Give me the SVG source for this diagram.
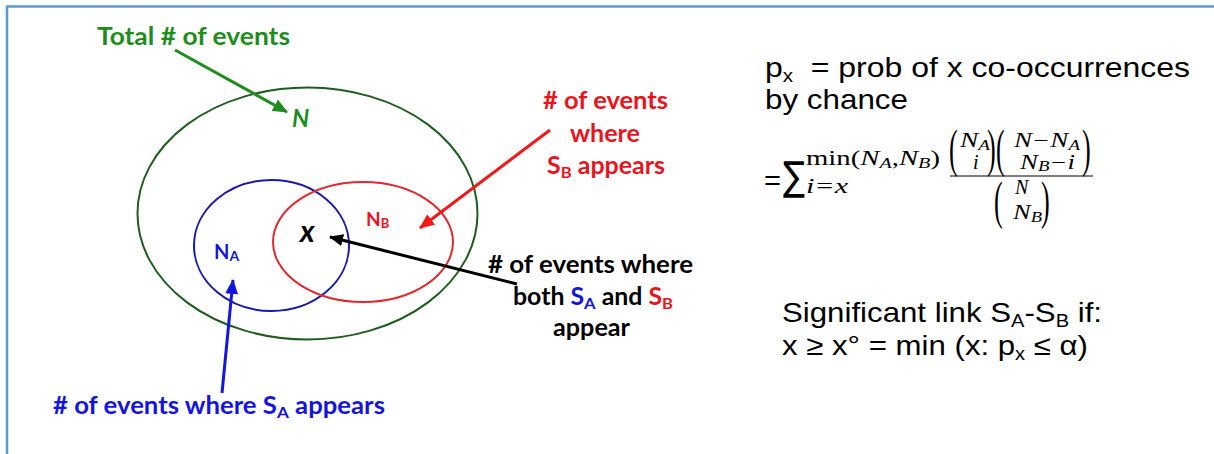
<svg xmlns="http://www.w3.org/2000/svg" width="1214" height="454" viewBox="0 0 1214 454">
<style>
.cal{font-family:Lato,"Open Sans","DejaVu Sans",sans-serif;font-weight:bold}
.ari{font-family:"Liberation Sans",Arial,sans-serif;fill:#000}
.mth{font-family:"Liberation Serif","DejaVu Serif",serif;fill:#000}
.it{font-style:italic}
.g{fill:#1f8c1f}.r{fill:#e8141e}.b{fill:#1414e0}.k{fill:#000}
.conn{fill:none;stroke-width:3}
</style>
<defs>
<marker id="ahG" markerUnits="userSpaceOnUse" markerWidth="15" markerHeight="13" viewBox="0 0 15 13" refX="14" refY="6.5" orient="auto"><path d="M0,0 L15,6.5 L0,13 z" fill="#1f8c1f"/></marker>
<marker id="ahR" markerUnits="userSpaceOnUse" markerWidth="15" markerHeight="13" viewBox="0 0 15 13" refX="14" refY="6.5" orient="auto"><path d="M0,0 L15,6.5 L0,13 z" fill="#f01818"/></marker>
<marker id="ahK" markerUnits="userSpaceOnUse" markerWidth="14" markerHeight="12" viewBox="0 0 14 12" refX="13" refY="6" orient="auto"><path d="M0,0 L14,6 L0,12 z" fill="#000"/></marker>
<marker id="ahB" markerUnits="userSpaceOnUse" markerWidth="15" markerHeight="13" viewBox="0 0 15 13" refX="14" refY="6.5" orient="auto"><path d="M0,0 L15,6.5 L0,13 z" fill="#1414e0"/></marker>
</defs>
<rect width="1214" height="454" fill="#fff"/>
<path d="M7,456 V6.5 H1216" fill="none" stroke="#5b9bd5" stroke-width="2.5"/>

<g id="set-total">
<ellipse cx="307.5" cy="213.5" rx="170" ry="126" fill="none" stroke="#1e5c1e" stroke-width="2"/>
<text class="cal g it" x="292" y="127" font-size="24">N</text>
</g>
<g id="set-A">
<ellipse cx="271.5" cy="245.5" rx="77.5" ry="65.5" fill="none" stroke="#1a1aa8" stroke-width="2"/>
<text class="cal b" x="214" y="259" font-size="20">N<tspan font-size="14" dy="2">A</tspan></text>
</g>
<g id="set-B">
<ellipse cx="363" cy="242" rx="90" ry="60" fill="none" stroke="#e0282e" stroke-width="2"/>
<text class="cal r" x="366" y="226" font-size="19">N<tspan font-size="13" dy="2">B</tspan></text>
</g>
<g id="intersection">
<text class="cal k it" x="300" y="242" font-size="30">x</text>
</g>

<g id="label-total">
<text class="cal g" x="97" y="45" font-size="24" textLength="193" lengthAdjust="spacingAndGlyphs">Total # of events</text>
</g>
<g id="label-B">
<text class="cal r" x="543" y="109" font-size="24" textLength="125" lengthAdjust="spacingAndGlyphs"># of events</text>
<text class="cal r" x="570" y="142" font-size="24" textLength="70" lengthAdjust="spacingAndGlyphs">where</text>
<text class="cal r" x="547" y="174" font-size="24" textLength="118" lengthAdjust="spacingAndGlyphs">S<tspan font-size="16" dy="4">B</tspan><tspan dy="-4"> appears</tspan></text>
</g>
<g id="label-both">
<text class="cal k" x="488" y="273" font-size="24" textLength="205" lengthAdjust="spacingAndGlyphs"># of events where</text>
<text class="cal k" x="513" y="305" font-size="24" textLength="160" lengthAdjust="spacingAndGlyphs">both <tspan class="b">S</tspan><tspan class="b" font-size="16" dy="4">A</tspan><tspan dy="-4"> and </tspan><tspan class="r">S</tspan><tspan class="r" font-size="16" dy="4">B</tspan></text>
<text class="cal k" x="553" y="336" font-size="24" textLength="77" lengthAdjust="spacingAndGlyphs">appear</text>
</g>
<g id="label-A">
<text class="cal b" x="53" y="414" font-size="24" textLength="332" lengthAdjust="spacingAndGlyphs"># of events where S<tspan font-size="16" dy="4">A</tspan><tspan dy="-4"> appears</tspan></text>
</g>

<g id="connectors">
<line class="conn" x1="175" y1="50" x2="287" y2="112" stroke="#1f8c1f" marker-end="url(#ahG)"/>
<line class="conn" x1="550" y1="130" x2="420" y2="228" stroke="#f01818" marker-end="url(#ahR)"/>
<line class="conn" x1="517" y1="284" x2="330" y2="237" stroke="#000" stroke-width="2.5" marker-end="url(#ahK)"/>
<line class="conn" x1="222" y1="393" x2="233" y2="280" stroke="#1414e0" marker-end="url(#ahB)"/>
</g>

<g id="definition">
<text class="ari" x="765" y="77" font-size="28" textLength="425" lengthAdjust="spacingAndGlyphs">p<tspan font-size="18" dy="5">x</tspan><tspan dy="-5" xml:space="preserve">  = prob of x co-occurrences</tspan></text>
<text class="ari" x="765" y="109" font-size="28" textLength="143" lengthAdjust="spacingAndGlyphs">by chance</text>
</g>

<g id="formula">
<text class="ari" x="764" y="190" font-size="28" textLength="17" lengthAdjust="spacingAndGlyphs">=</text>
<text x="783" y="190" font-family="DejaVu Sans, sans-serif" font-size="40" textLength="22" lengthAdjust="spacingAndGlyphs">∑</text>
<text class="mth" x="806" y="165" font-size="20" textLength="134" lengthAdjust="spacingAndGlyphs">min(<tspan class="it">N</tspan><tspan class="it" font-size="14" dy="3">A</tspan><tspan dy="-3">,</tspan><tspan class="it">N</tspan><tspan class="it" font-size="14" dy="3">B</tspan><tspan dy="-3">)</tspan></text>
<text class="mth it" x="806" y="193" font-size="20" textLength="42" lengthAdjust="spacingAndGlyphs">i=x</text>
<!-- numerator -->
<text class="mth" x="0" y="0" font-size="58" transform="translate(949,166) scale(0.45,0.92)">(</text>
<text class="mth it" x="960" y="147" font-size="20" textLength="30" lengthAdjust="spacingAndGlyphs">N<tspan font-size="14" dy="3">A</tspan></text>
<text class="mth it" x="973" y="169" font-size="20">i</text>
<text class="mth" x="0" y="0" font-size="58" transform="translate(987,166) scale(0.45,0.92)">)</text>
<text class="mth" x="0" y="0" font-size="58" transform="translate(996,166) scale(0.45,0.92)">(</text>
<text class="mth it" x="1014" y="147" font-size="20" textLength="66" lengthAdjust="spacingAndGlyphs">N−N<tspan font-size="14" dy="3">A</tspan></text>
<text class="mth it" x="1020" y="169" font-size="20" textLength="55" lengthAdjust="spacingAndGlyphs">N<tspan font-size="14" dy="2">B</tspan><tspan dy="-2">−i</tspan></text>
<text class="mth" x="0" y="0" font-size="58" transform="translate(1082,166) scale(0.45,0.92)">)</text>
<line x1="950" y1="176" x2="1093" y2="176" stroke="#000" stroke-width="1.2"/>
<!-- denominator -->
<text class="mth" x="0" y="0" font-size="58" transform="translate(994,218) scale(0.45,0.92)">(</text>
<text class="mth it" x="1015" y="194" font-size="20">N</text>
<text class="mth it" x="1013" y="219" font-size="20" textLength="29" lengthAdjust="spacingAndGlyphs">N<tspan font-size="14" dy="3">B</tspan></text>
<text class="mth" x="0" y="0" font-size="58" transform="translate(1041,218) scale(0.45,0.92)">)</text>
</g>

<g id="criterion">
<text class="ari" x="782" y="322" font-size="28" textLength="320" lengthAdjust="spacingAndGlyphs">Significant link S<tspan font-size="18" dy="5">A</tspan><tspan dy="-5">-S</tspan><tspan font-size="18" dy="5">B</tspan><tspan dy="-5"> if:</tspan></text>
<text class="ari" x="782" y="355" font-size="28" textLength="306" lengthAdjust="spacingAndGlyphs">x ≥ x° = min (x: p<tspan font-size="18" dy="5">x</tspan><tspan dy="-5"> ≤ α)</tspan></text>
</g>
</svg>
